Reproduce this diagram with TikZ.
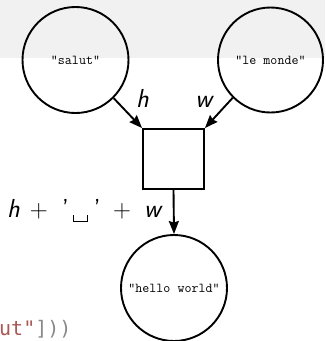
\documentclass[tikz,border=0pt]{standalone}
\usepackage{fontspec}
\newfontfamily\codefont{DejaVu Sans Mono}
\usetikzlibrary{arrows.meta}
\definecolor{bandgrey}{RGB}{241,241,241}
\definecolor{strred}{RGB}{172,86,86}
\definecolor{codegrey}{RGB}{136,136,136}
% open box standing for a visible space
\newcommand\vissp{\vrule width 1pt height 2.5pt depth 4.5pt\vrule width 13pt height -3.5pt depth 4.5pt\vrule width 1pt height 2.5pt depth 4.5pt}
\tikzset{
  valnode/.style={draw, circle, line width=1.9pt, minimum size=106pt, inner sep=0pt,
    font=\ttfamily\fontsize{13.6}{15}\selectfont},
  fnbox/.style={draw, rectangle, line width=1.9pt, minimum width=61pt, minimum height=60pt, inner sep=0pt},
  arr/.style={line width=1.9pt, -{Stealth[length=13pt,width=10pt,inset=1.5pt]}},
  varlbl/.style={inner sep=0pt, font=\sffamily\itshape\fontsize{26}{30}\selectfont},
}
\begin{document}
\begin{tikzpicture}[x=1pt, y=-1pt]
\useasboundingbox (0,0) rectangle (325,341);
\fill[bandgrey] (0,0) rectangle (325,58);

\node[valnode] (salut) at (75.5,60) {"salut"};
\node[valnode, minimum size=105pt] (monde) at (270.5,60) {"le monde"};
\node[fnbox] (join) at (173.5,159) {};
\node[valnode] (hello) at (174,288) {"hello world"};

\draw[arr] (salut.-45) -- (join.north west)
  node[pos=1, varlbl, anchor=base west, xshift=-7pt, yshift=21pt] (lh) {h};
\draw[arr] (monde.-135) -- (join.north east)
  node[pos=1, varlbl, anchor=base west, xshift=-10.5pt, yshift=21pt] (lw) {w};
\draw[arr] (join.south) -- (hello.north)
  node[midway, inner sep=0pt, anchor=base east, xshift=-12pt, yshift=-5.5pt,
       font=\sffamily\fontsize{26}{30}\selectfont] (lhw)
  {{\itshape h}\kern10.2pt$+$\kern14.2pt’\kern4.5pt\vissp\kern5.5pt’\kern12.4pt$+$\kern13.2pt{\itshape w}};

\node[inner sep=0pt, anchor=base west, font=\codefont\fontsize{20}{24}\selectfont] (code) at (-1,335)
  {\textcolor{strred}{ut"}\textcolor{codegrey}{]))}};
\end{tikzpicture}
\end{document}
